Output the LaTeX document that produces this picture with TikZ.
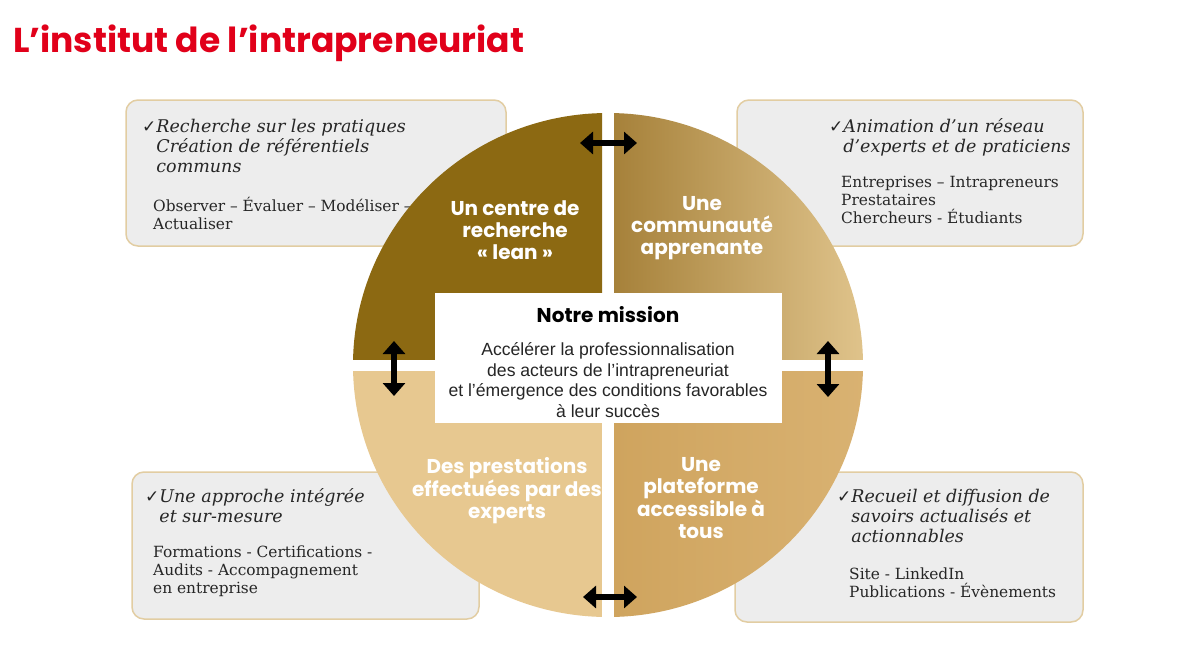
\documentclass[tikz,border=0pt]{standalone}
\usepackage{fontspec}
\setmainfont{DejaVu Serif}
\newfontfamily\popfont{Poppins}
\newfontfamily\arialfont{Liberation Sans}
\newfontfamily\symfont{DejaVu Sans}
\usetikzlibrary{arrows.meta,positioning}

\definecolor{titlered}{HTML}{E1001A}
\definecolor{goldA}{HTML}{8C6912}
\definecolor{goldBl}{HTML}{A6813A}
\definecolor{goldBr}{HTML}{E0C48C}
\definecolor{goldC}{HTML}{E7C890}
\definecolor{goldDl}{HTML}{CFA45E}
\definecolor{goldDr}{HTML}{D9B272}
\definecolor{boxgray}{HTML}{EDEDED}
\definecolor{boxline}{HTML}{E2CDA2}

\tikzset{
    infobox/.style={draw=boxline, line width=1.5pt, fill=boxgray, rounded corners=12pt},
    infohead/.style={anchor=north west, inner sep=0pt, align=left, text=black!85,
        font=\fontsize{17.5}{20}\selectfont\itshape},
    infotext/.style={anchor=north west, inner sep=0pt, align=left, text=black!85,
        font=\fontsize{15.4}{18}\selectfont},
    quadlabel/.style={align=center, text=white, inner sep=0pt,
        font=\popfont\bfseries\fontsize{20}{21.8}\selectfont},
    missionbox/.style={fill=white, minimum width=347pt, minimum height=130pt, inner sep=0pt},
    linkarrow/.style={line width=6pt, {Triangle[length=13pt,width=22pt]}-{Triangle[length=13pt,width=22pt]}}
}
\newcommand{\chk}{{\symfont\fontsize{17}{20}\selectfont\upshape ✓}}

\begin{document}
\begin{tikzpicture}[x=1pt,y=-1pt]
    \useasboundingbox (0,0) rectangle (1200,665);
    \fill[white] (0,0) rectangle (1200,665);

    % titre
    \node[anchor=base west, inner sep=0pt, text=titlered,
        font=\popfont\bfseries\fontsize{34.5}{38}\selectfont] (title) at (13,52)
        {L’institut de l’intrapreneuriat};

    % encadres
    \draw[infobox] (126,100) rectangle (506,246);
    \draw[infobox] (737,100) rectangle (1083,246);
    \draw[infobox] (132,472) rectangle (479,619);
    \draw[infobox] (735,472) rectangle (1083,622);

    \node[infohead] (rechHead) at (142,118)
        {\begin{tabular}{@{}l@{}l@{}}\chk & Recherche sur les pratiques\\
        & Création de référentiels\\ & communs\end{tabular}};
    \node[infotext] (rechText) at (153,197)
        {Observer – Évaluer – Modéliser –\\ Actualiser};

    \node[infohead] (animHead) at (829,118)
        {\begin{tabular}{@{}l@{}l@{}}\chk & Animation d’un réseau\\
        & d’experts et de praticiens\end{tabular}};
    \node[infotext] (animText) at (841,176)
        {Entreprises – Intrapreneurs\\ Prestataires\\ Chercheurs - Étudiants};

    \node[infohead] (apprHead) at (145,488)
        {\begin{tabular}{@{}l@{}l@{}}\chk & Une approche intégrée\\
        & et sur-mesure\end{tabular}};
    \node[infotext] (apprText) at (153,546)
        {Formations - Certifications -\\ Audits - Accompagnement\\ en entreprise};

    \node[infohead] (recuHead) at (837,488)
        {\begin{tabular}{@{}l@{}l@{}}\chk & Recueil et diffusion de\\
        & savoirs actualisés et\\ & actionnables\end{tabular}};
    \node[infotext] (recuText) at (849,568)
        {Site - LinkedIn\\ Publications - Évènements};

    % cercle
    \begin{scope}
        \clip (340,100) rectangle (602,359);
        \fill[goldA] (608,365) ellipse (255 and 252);
    \end{scope}
    \begin{scope}
        \clip (608,365) ellipse (255 and 252);
        \shade[left color=goldBl, right color=goldBr] (614,100) rectangle (866,359);
        \fill[goldC] (340,371) rectangle (602,630);
        \shade[left color=goldDl, right color=goldDr] (614,371) rectangle (866,630);
    \end{scope}

    \node[quadlabel] (centre) at (515,230) {Un centre de\\ recherche\\ « lean »};
    \node[quadlabel] (commu) at (702,228) {Une\\ communauté\\ apprenante};
    \node[quadlabel] (presta) at (507,491) {Des prestations\\ effectuées par des\\ experts};
    \node[quadlabel] (plate) at (701,498) {Une\\ plateforme\\ accessible à\\ tous};

    % mission
    \node[missionbox] (mission) at (608.5,358) {};
    \node[font=\popfont\bfseries\fontsize{20}{22}\selectfont, inner sep=0pt]
        (missionHead) at (608,315) {Notre mission};
    \node[below=19pt of missionHead, align=center, inner sep=0pt, text=black!85,
        font=\arialfont\fontsize{17.6}{20.7}\selectfont] (missionText)
        {Accélérer la professionnalisation\\ des acteurs de l’intrapreneuriat\\
        et l’émergence des conditions favorables\\ à leur succès};

    % fleches
    \coordinate (topL) at (580,143);
    \coordinate (topR) at (637,143);
    \coordinate (botL) at (583,597);
    \coordinate (botR) at (637,597);
    \coordinate (leftU) at (394,341);
    \coordinate (leftD) at (394,396);
    \coordinate (rightU) at (828,341);
    \coordinate (rightD) at (828,397);
    \draw[linkarrow] (topL) -- (topR);
    \draw[linkarrow] (botL) -- (botR);
    \draw[linkarrow] (leftU) -- (leftD);
    \draw[linkarrow] (rightU) -- (rightD);
\end{tikzpicture}
\end{document}
